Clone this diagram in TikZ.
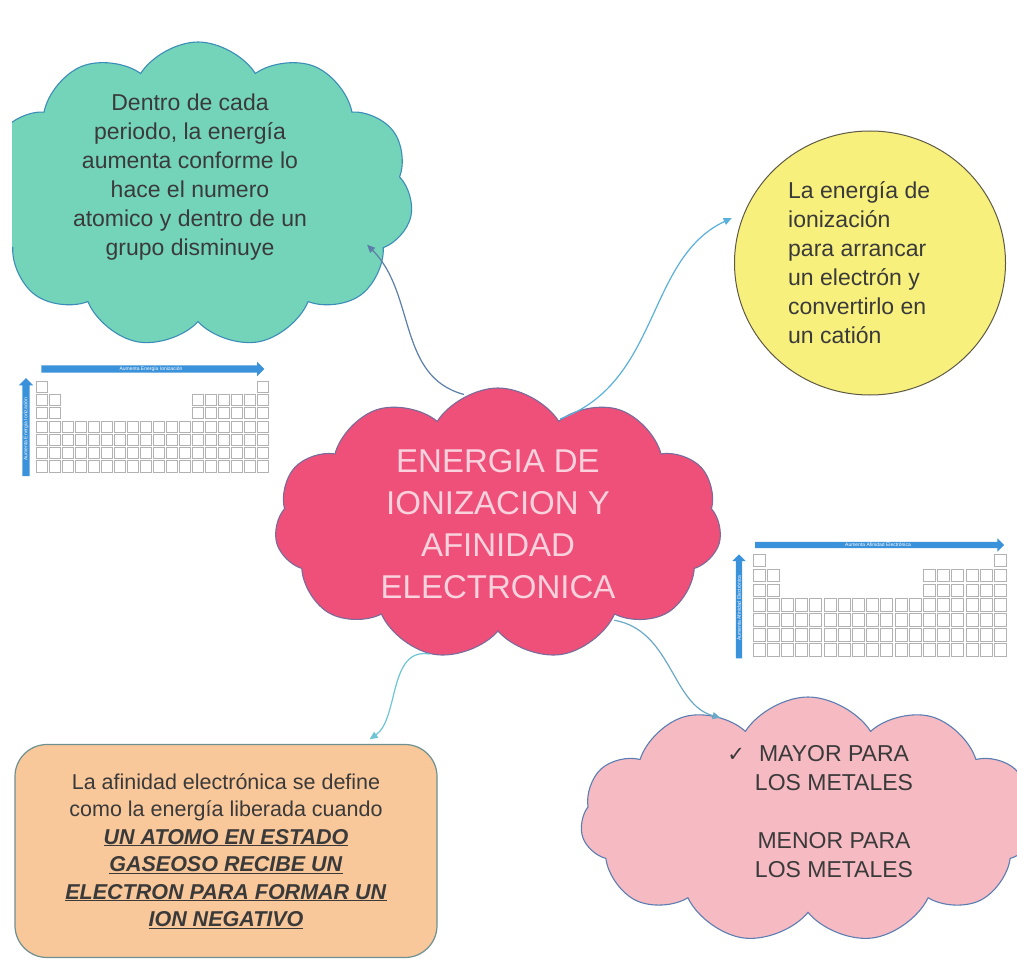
\documentclass[tikz,border=0pt]{standalone}
\usepackage{fontspec}
\setmainfont{Liberation Sans}
\newfontfamily\simbolos{DejaVu Sans}
\usepackage{tikz}
\usetikzlibrary{arrows.meta,positioning,shapes.geometric,shapes.symbols,shapes.arrows}
\definecolor{Texto}{HTML}{3A3A3A}
\definecolor{VerdeFondo}{HTML}{74D4BA}
\definecolor{VerdeBorde}{HTML}{3B8DB8}
\definecolor{CentroFondo}{HTML}{EE5079}
\definecolor{CentroBorde}{HTML}{7B6B9B}
\definecolor{CentroTexto}{HTML}{FAD2DE}
\definecolor{AmarilloFondo}{HTML}{F8F07C}
\definecolor{AmarilloBorde}{HTML}{5E5A45}
\definecolor{NaranjaFondo}{HTML}{F8C79A}
\definecolor{NaranjaBorde}{HTML}{6E9090}
\definecolor{RosaFondo}{HTML}{F5BAC2}
\definecolor{RosaBorde}{HTML}{5B7DB3}
\definecolor{Flecha1}{HTML}{5C7EA8}
\definecolor{Flecha2}{HTML}{5AB0DC}
\definecolor{Flecha3}{HTML}{6CC4D4}
\definecolor{Flecha4}{HTML}{6AA8C8}
\definecolor{AzulTabla}{HTML}{3A92DA}
\newcommand{\subrayado}[1]{\underline{\textbf{\textit{#1}}}}

\begin{document}
\begin{tikzpicture}[x=1pt,y=-1pt,every node/.style={align=center, text=Texto},
    nube/.style={cloud, cloud puffs=11, cloud puff arc=115, cloud ignores aspect, line width=1.1pt, inner sep=0pt},
    texto/.style={inner sep=0pt, font=\fontsize{23}{29}\selectfont},
    conector/.style={-{Triangle[length=8pt,width=7pt]}, line width=1.2pt},
    celda/.style={draw=gray!60, line width=0.9pt, fill=white},
    flechaazul/.style={single arrow, fill=AzulTabla, single arrow head extend=3.5pt, inner sep=1pt, text=white, font=\fontsize{5}{5}\selectfont}]
  \useasboundingbox (0,0) rectangle (1017,968);
  \clip (0,0) rectangle (1017,968);

  % nubes y cajas
  \begin{scope}
    \clip (12,0) rectangle (1017,968);
    \node[nube, fill=VerdeFondo, draw=VerdeBorde, minimum width=430pt, minimum height=306pt] (verde) at (198,195) {};
  \end{scope}
  \node[texto] (verdetxt) at (190,177) {Dentro de cada\\periodo, la energía\\aumenta conforme lo\\hace el numero\\atomico y dentro de un\\grupo disminuye};

  \node[nube, fill=CentroFondo, draw=CentroBorde, minimum width=447pt, minimum height=272pt, text=CentroTexto, font=\fontsize{33}{42}\selectfont] (centro) at (498,524) {ENERGIA DE\\IONIZACION Y\\AFINIDAD\\ELECTRONICA};

  \node[ellipse, fill=AmarilloFondo, draw=AmarilloBorde, line width=1pt, minimum width=271pt, minimum height=264pt] (amarillo) at (870,263) {};
  \node[texto, anchor=west, align=left] (amarillotxt) at (788,263) {La energía de\\ionización\\para arrancar\\un electrón y\\convertirlo en\\un catión};

  \node[rectangle, rounded corners=32pt, fill=NaranjaFondo, draw=NaranjaBorde, line width=1.2pt, minimum width=422pt, minimum height=213pt, font=\fontsize{21.5}{27.5}\selectfont] (naranja) at (226,851) {La afinidad electrónica se define\\como la energía liberada cuando\\\subrayado{UN ATOMO EN ESTADO}\\\subrayado{GASEOSO RECIBE UN}\\\subrayado{ELECTRON PARA FORMAR UN}\\\subrayado{ION NEGATIVO}};

  \node[nube, fill=RosaFondo, draw=RosaBorde, minimum width=455pt, minimum height=246pt] (rosa) at (808,820) {};
  \node[texto] (rosatxt) at (834,812) {\llap{{\simbolos\fontsize{21}{21}\selectfont ✓}\hspace{14pt}}MAYOR PARA\\LOS METALES\\[29pt]MENOR PARA\\LOS METALES};

  % tablas periodicas
  \begin{scope}[shift={(35,380)}, x=13pt, y=-13.3pt]
    \foreach \c in {1,18} \draw[celda] ({\c-0.92},0.08) rectangle ({\c-0.08},0.92);
    \foreach \r in {2,3} \foreach \c in {1,2,13,14,...,18} \draw[celda] ({\c-0.92},{\r-0.92}) rectangle ({\c-0.08},{\r-0.08});
    \foreach \r in {4,...,7} \foreach \c in {1,...,18} \draw[celda] ({\c-0.92},{\r-0.92}) rectangle ({\c-0.08},{\r-0.08});
  \end{scope}
  \node[flechaazul, minimum height=223pt] (ionH) at (151,369) {Aumenta Energía Ionización};
  \node[flechaazul, minimum height=98pt, rotate=90] (ionV) at (26,429) {Aumenta Energía Ionización};

  \begin{scope}[shift={(752,553)}, x=14.2pt, y=-14.9pt]
    \foreach \c in {1,18} \draw[celda] ({\c-0.92},0.08) rectangle ({\c-0.08},0.92);
    \foreach \r in {2,3} \foreach \c in {1,2,13,14,...,18} \draw[celda] ({\c-0.92},{\r-0.92}) rectangle ({\c-0.08},{\r-0.08});
    \foreach \r in {4,...,7} \foreach \c in {1,...,18} \draw[celda] ({\c-0.92},{\r-0.92}) rectangle ({\c-0.08},{\r-0.08});
  \end{scope}
  \node[flechaazul, minimum height=249pt] (afiH) at (878,545) {Aumenta Afinidad Electrónica};
  \node[flechaazul, minimum height=104pt, rotate=90] (afiV) at (739,608) {Aumenta Afinidad Electrónica};

  % conectores
  \draw[conector, Flecha1, shorten <=2pt, shorten >=2pt] (centro.104) to[out=165, in=-45] ([xshift=-18pt,yshift=12pt]verde.-18);
  \draw[conector, Flecha2, shorten <=2pt, shorten >=14pt] (centro.60) to[out=20, in=205] (amarillo.158);
  \draw[conector, Flecha3, shorten <=2pt, shorten >=8pt] (centro.243) to[out=170, in=35] (naranja.38);
  \draw[conector, Flecha4, shorten <=2pt, shorten >=10pt] (centro.-40) to[out=-10, in=165] (rosa.128);
\end{tikzpicture}
\end{document}
